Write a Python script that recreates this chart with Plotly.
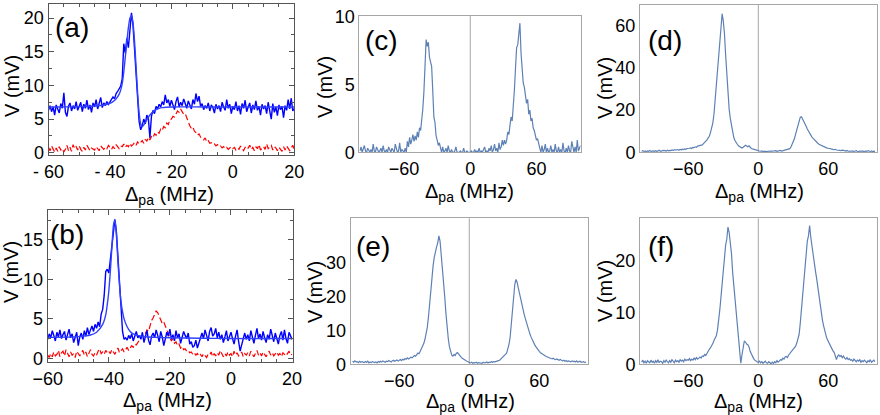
import plotly.graph_objects as go

# ---------------- DATA ----------------
# panel (a): x grid from -60 to 20 MHz, 0.5 MHz steps
a_x = [-60 + 0.5 * i for i in range(161)]
a_blue = [
    6.3, 7.0, 6.1, 6.8, 5.6, 7.1, 6.5, 5.9, 7.3, 6.6,
    8.9, 6.0, 5.4, 6.9, 7.4, 6.2, 7.0, 6.5, 7.6, 6.3,
    6.9, 7.5, 6.1, 7.2, 6.6, 7.8, 6.4, 7.1, 6.0, 7.4,
    6.8, 7.9, 6.5, 7.3, 8.2, 6.7, 7.4, 7.0, 7.6, 7.2,
    7.6, 7.9, 8.3, 8.0, 8.8, 9.1, 9.6, 9.9, 11.0, 16.2,
    14.8, 17.0, 15.6, 18.5, 20.8, 19.0, 15.2, 11.5, 7.5, 4.6,
    3.4, 4.0, 5.0, 4.3, 5.6, 5.1, 2.2, 5.4, 6.3, 5.8,
    6.9, 6.5, 7.2, 6.8, 7.6, 7.1, 8.6, 7.4, 7.9, 6.9,
    7.8, 7.2, 6.4, 7.6, 8.3, 6.8, 7.5, 7.0, 8.0, 7.3,
    6.6, 7.7, 7.1, 6.5, 7.9, 7.2, 8.8, 7.6, 8.4, 6.9,
    7.3, 6.4, 7.0, 6.6, 7.4, 6.2, 7.1, 6.7, 5.9, 7.2,
    6.5, 7.0, 6.1, 7.5, 6.8, 6.3, 7.9, 6.6, 7.2, 5.8,
    6.9, 6.4, 7.6, 6.2, 7.0, 5.7, 7.3, 6.6, 7.8, 6.1,
    6.8, 7.4, 5.9, 7.1, 6.4, 7.7, 6.3, 6.9, 5.6, 7.2,
    6.5, 7.0, 5.8, 7.5, 6.2, 5.0, 7.3, 6.0, 6.8, 5.5,
    7.1, 6.4, 6.9, 5.2, 7.0, 6.3, 7.9, 6.5, 8.1, 6.2,
    6.6,
]
a_red = [
    0.8, 0.3, 1.0, 0.5, 0.1, 0.7, 0.2, 0.9, 0.4, 0.6,
    0.1, 0.5, 1.1, 0.3, 0.8, 0.2, 1.2, 0.6, 0.9, 0.4,
    1.0, 0.5, 0.2, 0.8, 0.4, 1.1, 0.6, 0.3, 0.7, 0.5,
    0.4, 0.9, 0.6, 0.3, 1.0, 0.7, 0.5, 0.8, 0.6, 1.1,
    0.7, 0.5, 0.9, 0.6, 1.2, 0.8, 0.6, 1.0, 0.9, 1.3,
    0.8, 1.1, 0.9, 1.4, 1.0, 1.2, 1.5, 1.1, 1.6, 1.3,
    1.5, 1.8, 1.4, 2.0, 1.7, 2.3, 1.9, 2.4, 2.2, 2.8,
    2.6, 3.1, 2.9, 3.5, 3.3, 3.9, 3.7, 4.4, 4.2, 4.9,
    5.0, 5.4, 5.3, 5.9, 6.2, 6.0, 6.5, 6.1, 5.7, 5.8,
    5.2, 4.4, 4.0, 3.6, 3.8, 3.2, 3.0, 2.6, 2.8, 2.3,
    2.1, 1.9, 2.2, 1.6, 1.8, 1.4, 1.5, 1.2, 1.3, 1.0,
    1.2, 0.9, 1.0, 0.7, 0.9, 0.6, 0.8, 0.5, 0.7, 0.9,
    0.6, 0.8, 0.4, 0.7, 0.5, 1.0, 0.6, 0.3, 0.8, 0.5,
    0.7, 1.1, 0.5, 0.8, 0.3, 0.9, 0.6, 1.2, 0.4, 0.7,
    0.9, 0.5, 1.3, 0.6, 0.8, 1.1, 0.4, 0.9, 0.7, 0.3,
    0.8, 0.5, 0.2, 0.9, 0.4, 1.0, 0.6, 0.3, 0.7, 1.1,
    0.5,
]
a_fit_x = [-60, -50, -45, -42, -40, -39, -38, -37, -36.5, -36, -35.5, -35, -34.5,
           -34, -33.5, -33, -32.5, -32, -31.5, -31, -30.5, -30, -29.5, -29, -28,
           -27, -26, -25, -24, -23, -20, -10, 0, 20]
a_fit_y = [6.8, 6.85, 6.95, 7.1, 7.35, 7.6, 8.0, 8.7, 9.3, 10.3, 12.0, 14.2, 16.5,
           18.6, 20.0, 20.4, 19.3, 16.6, 12.8, 8.9, 5.9, 4.3, 3.9, 4.1, 4.9,
           5.6, 6.1, 6.4, 6.6, 6.7, 6.8, 6.8, 6.8, 6.8]

# panel (b)
b_x = [-60 + 0.5 * i for i in range(161)]
b_blue = [
    2.4, 3.1, 2.6, 3.5, 2.9, 2.2, 3.3, 2.7, 3.6, 2.5,
    3.0, 3.4, 2.3, 2.9, 3.7, 2.6, 3.1, 2.0, 2.8, 3.3,
    1.6, 2.7, 3.2, 2.4, 3.5, 2.8, 3.9, 3.0, 3.6, 4.1,
    3.4, 4.3, 3.8, 4.6, 4.0, 5.6, 6.2, 8.0, 11.0, 11.3,
    10.8, 12.5, 14.5, 16.5, 17.6, 16.0, 12.8, 8.6, 5.5, 3.4,
    2.4, 2.6, 2.3, 2.9, 2.5, 3.1, 2.2, 2.8, 3.4, 2.6,
    2.9, 2.4, 3.3, 2.0, 2.7, 3.5, 2.3, 1.7, 2.8, 3.2,
    2.6, 3.6, 2.9, 2.1, 3.4, 2.7, 1.6, 2.5, 3.3, 2.8,
    3.7, 2.4, 3.0, 2.2, 3.5, 2.6, 3.1, 1.9, 2.7, 3.4,
    2.9, 2.5, 3.2, 1.8, 2.1, 1.4, 1.6, 2.3, 1.3, 2.0,
    2.7, 3.2, 2.5, 3.6, 2.9, 2.2, 3.4, 3.9, 2.8, 3.1,
    3.8, 2.6, 3.3, 2.4, 3.0, 2.0, 2.7, 3.5, 2.2, 2.9,
    3.3, 2.5, 1.8, 2.8, 3.6, 2.1, 0.9, 1.7, 2.6, 3.2,
    2.4, 3.0, 2.2, 3.5, 2.7, 1.9, 2.9, 3.8, 2.5, 3.1,
    2.3, 3.4, 2.6, 2.0, 3.0, 2.4, 3.7, 2.8, 2.1, 3.2,
    2.6, 1.8, 2.9, 3.4, 2.3, 3.6, 2.5, 1.9, 3.3, 2.7,
    2.4,
]
b_red = [
    0.4, 0.1, 0.6, 0.2, 0.8, 0.3, 0.5, 1.0, 0.2, 0.7,
    0.9, 0.3, 1.1, 0.5, 0.2, 0.8, 0.4, 0.6, 0.1, 0.9,
    0.5, 0.3, 0.7, 1.0, 0.4, 0.8, 0.2, 0.6, 1.1, 0.5,
    0.3, 0.7, 0.4, 0.9, 1.2, 0.6, 0.8, 0.5, 1.0, 0.7,
    0.9, 0.6, 1.1, 0.8, 0.5, 1.0, 1.3, 0.7, 0.9, 1.2,
    0.8, 1.1, 1.4, 1.0, 1.3, 1.6, 1.4, 1.8, 1.7, 2.0,
    2.2, 2.6, 2.9, 2.7, 3.2, 3.6, 3.4, 4.2, 4.8, 5.1,
    5.6, 6.0, 5.8, 5.3, 4.9, 4.4, 4.6, 4.0, 3.6, 3.1,
    2.6, 2.2, 2.5, 1.9, 2.1, 1.6, 1.8, 1.3, 1.5, 1.1,
    1.2, 0.9, 1.0, 0.7, 0.8, 0.5, 0.7, 0.4, 0.6, 0.3,
    0.5, 0.2, 0.6, 0.3, 0.1, 0.5, 0.4, 0.8, 0.2, 0.6,
    0.3, 0.7, 0.4, 1.0, 0.5, 0.2, 0.6, 0.3, 0.8, 0.4,
    0.6, 0.2, 0.9, 0.4, 0.7, 0.3, 0.5, 0.8, 0.2, 0.6,
    0.4, 0.7, 0.3, 0.9, 0.5, 0.2, 0.6, 1.0, 0.4, 0.7,
    0.3, 0.8, 0.5, 0.2, 0.6, 0.9, 0.4, 0.7, 0.3, 0.5,
    0.8, 0.4, 0.6, 0.2, 0.7, 0.5, 0.3, 0.6, 0.9, 0.4,
    0.5,
]
b_fit_x = [-60, -50, -46, -44, -42, -41, -40.5, -40, -39.5, -39, -38.5, -38, -37.5,
           -37, -36.5, -36, -35.5, -35, -34, -33, -32, -30, -27, -24, -20, -10, 0, 10, 20]
b_fit_y = [2.65, 2.75, 2.95, 3.3, 4.3, 5.5, 6.8, 8.5, 11.0, 14.0, 16.8, 17.6, 15.6,
           12.2, 9.3, 7.2, 5.9, 5.0, 4.0, 3.4, 3.1, 2.85, 2.7, 2.65, 2.6, 2.55, 2.5, 2.5, 2.5]

# panels (c)-(f): x grid from -100 to 100 MHz, 1 MHz steps
cf_x = list(range(-100, 101))
c_y = [
    0.1, 0.4, 0.0, 0.2, 0.5, 0.1, 0.0, 0.3, 0.1, 0.0,
    0.2, 0.0, 0.6, 0.1, 0.0, 0.4, 0.2, 0.0, 0.1, 0.3,
    0.0, 0.5, 0.1, 0.0, 0.2, 0.0, 0.4, 0.1, 0.0, 0.3,
    0.1, 0.0, 0.6, 0.2, 0.0, 0.1, 0.7, 0.0, 0.2, 0.1,
    0.0, 0.3, 0.0, 0.8, 0.4, 1.1, 0.6, 0.9, 1.3, 0.8,
    1.2, 0.9, 1.5, 1.1, 1.8, 1.6, 2.2, 3.2, 4.5, 6.6,
    8.3, 7.8, 8.1, 7.0, 6.6, 6.3, 4.5, 2.6, 2.2, 1.2,
    0.9, 0.5, 0.7, 0.2, 0.0, 0.4, 0.0, 0.1, 0.3, 0.0,
    0.5, 0.1, 0.0, 0.2, 0.0, 0.0, 0.1, 0.4, 0.0, 0.0,
    0.0, 0.1, 0.0, 0.0, 0.3, 0.0, 0.0, 0.1, 0.0, 0.0,
    0.0, 0.1, 0.0, 0.0, 0.2, 0.0, 0.1, 0.0, 0.3, 0.0,
    0.1, 0.0, 0.2, 0.4, 0.0, 0.1, 0.0, 0.3, 0.1, 0.5,
    0.0, 0.2, 0.6, 0.1, 0.3, 0.0, 0.7, 0.2, 0.4, 0.9,
    0.5, 0.9, 0.6, 0.9, 1.5, 1.3, 2.0, 2.6, 2.3, 3.3,
    4.6, 6.2, 7.7, 7.9, 8.6, 9.5, 7.3, 6.0, 5.1, 4.8,
    4.1, 3.6, 3.9, 2.8, 3.1, 2.3, 2.5, 1.8, 1.6, 1.3,
    0.9, 1.0, 0.5, 0.3, 0.0, 0.5, 0.0, 0.2, 0.6, 0.0,
    0.3, 0.0, 0.1, 0.5, 0.0, 0.2, 0.0, 0.6, 0.1, 0.0,
    0.4, 0.0, 0.2, 0.0, 0.7, 0.1, 0.0, 0.3, 0.0, 0.5,
    0.1, 0.0, 0.8, 0.2, 0.0, 0.4, 0.0, 0.9, 0.1, 0.3,
    0.5,
]
d_y = [
    0.5, 0.8, 0.4, 0.6, 0.3, 0.7, 0.5, 0.9, 0.4, 0.6,
    0.7, 0.5, 0.8, 0.4, 0.6, 1.0, 0.5, 0.7, 0.6, 0.9,
    0.8, 0.6, 1.0, 0.7, 0.9, 0.8, 1.1, 0.9, 1.2, 1.0,
    1.1, 1.3, 1.0, 1.4, 1.2, 1.5, 1.3, 1.6, 1.4, 1.8,
    1.7, 1.9, 2.1, 1.8, 2.3, 2.2, 2.6, 2.4, 2.9, 3.1,
    3.2, 3.6, 3.5, 4.1, 4.6, 5.5, 5.9, 6.8, 7.6, 9.3,
    11.5, 13.8, 18.0, 24.5, 33.0, 40.5, 46.5, 52.0, 58.0, 65.5,
    62.0, 56.0, 46.0, 37.0, 27.0, 20.5, 16.0, 12.3, 9.0, 7.0,
    5.6, 4.5, 3.8, 3.1, 2.6, 2.3, 2.0, 2.4, 2.9, 3.3,
    3.0, 2.6, 3.1, 2.2, 1.8, 1.6, 1.4, 1.1, 1.0, 0.9,
    0.8, 0.6, 0.5, 0.7, 0.4, 0.6, 0.5, 0.3, 0.5, 0.6,
    0.4, 0.7, 0.5, 0.6, 0.4, 0.8, 0.5, 0.7, 0.6, 0.9,
    0.6, 0.8, 0.9, 1.0, 1.1, 1.3, 1.5, 1.7, 2.5, 3.6,
    4.8, 6.5, 8.6, 10.6, 12.8, 15.0, 16.6, 16.8, 15.8, 14.5,
    13.4, 12.3, 11.0, 9.9, 8.8, 8.1, 7.2, 6.6, 5.9, 5.3,
    4.7, 4.3, 3.8, 3.5, 3.1, 2.9, 2.6, 2.5, 2.2, 2.0,
    1.9, 1.7, 1.8, 1.5, 1.4, 1.3, 1.4, 1.1, 1.0, 1.2,
    0.9, 0.8, 1.0, 0.7, 0.8, 0.6, 0.9, 0.5, 0.7, 0.6,
    0.5, 0.7, 0.4, 0.6, 0.8, 0.5, 0.3, 0.6, 0.4, 0.7,
    0.5, 0.3, 0.6, 0.4, 0.8, 0.5, 0.4, 0.6, 0.3, 0.5,
    0.4,
]
e_y = [
    0.9, 0.6, 1.0, 0.7, 0.8, 0.5, 0.9, 0.6, 0.8, 0.7,
    0.5, 0.8, 0.6, 0.9, 0.4, 0.7, 0.5, 0.8, 0.6, 0.5,
    0.7, 0.4, 0.8, 0.6, 0.9, 0.7, 1.0, 0.8, 0.6, 0.9,
    0.8, 1.1, 0.9, 0.7, 1.0, 1.2, 0.9, 1.1, 1.3, 1.0,
    1.2, 1.4, 1.1, 1.5, 1.3, 1.7, 1.5, 1.9, 1.6, 2.0,
    2.1, 1.9, 2.3, 2.6, 2.4, 2.9, 3.3, 3.1, 3.8, 4.4,
    5.2, 6.1, 7.3, 8.7, 10.8, 13.8, 18.0, 21.8, 25.2, 29.0,
    31.5, 33.4, 34.6, 35.8, 37.8, 36.2, 32.5, 28.5, 24.0, 19.8,
    15.0, 10.5, 7.6, 5.2, 3.8, 2.7, 2.4, 2.9, 2.6, 3.3,
    3.4, 2.9, 2.5, 2.1, 1.8, 1.5, 1.3, 1.1, 0.9, 0.7,
    0.5, 0.4, 0.6, 0.3, 0.5, 0.4, 0.6, 0.3, 0.5, 0.4,
    0.5, 0.3, 0.6, 0.4, 0.5, 0.7, 0.4, 0.6, 0.5, 0.8,
    0.6, 0.8, 0.7, 0.9, 1.0, 1.1, 1.2, 1.5, 1.8, 2.2,
    2.5, 2.9, 3.3, 4.4, 5.8, 7.9, 11.5, 16.0, 20.5, 23.5,
    25.0, 24.2, 22.5, 20.8, 19.4, 17.8, 16.2, 14.8, 13.5, 12.2,
    11.0, 9.9, 8.9, 8.0, 7.1, 6.5, 5.8, 5.2, 4.6, 4.1,
    3.8, 3.4, 3.1, 2.9, 2.6, 2.5, 2.3, 2.1, 2.0, 1.9,
    1.7, 1.6, 1.8, 1.5, 1.4, 1.6, 1.3, 1.2, 1.4, 1.1,
    1.0, 1.2, 0.9, 1.1, 0.8, 1.0, 0.9, 0.7, 1.0, 0.8,
    0.9, 0.7, 1.0, 0.6, 0.8, 0.9, 0.6, 0.7, 0.8, 0.5,
    0.7,
]
f_y = [
    0.4, 0.8, 0.3, 0.6, 0.2, 0.7, 0.5, 0.3, 0.8, 0.4,
    0.6, 0.2, 0.7, 0.4, 0.9, 0.3, 0.6, 0.5, 0.2, 0.7,
    0.4, 0.8, 0.5, 0.3, 0.7, 0.4, 0.9, 0.6, 0.3, 0.8,
    0.5, 0.7, 0.4, 0.9, 0.6, 0.8, 0.5, 1.0, 0.7, 0.9,
    0.8, 1.1, 0.7, 1.0, 0.8, 1.2, 0.9, 1.3, 1.0, 1.2,
    1.4, 1.2, 1.6, 1.5, 1.9, 1.7, 2.2, 2.5, 2.9, 3.2,
    3.5, 4.0, 4.6, 5.2, 5.5, 6.6, 8.2, 10.5, 13.0, 15.8,
    18.5, 21.0, 23.0, 24.2, 26.5, 25.5, 23.5, 21.4, 17.8, 15.2,
    12.8, 9.6, 7.2, 5.0, 2.6, 0.2, 1.8, 3.3, 4.5, 4.3,
    3.9, 3.8, 3.4, 2.5, 1.9, 1.4, 1.1, 0.8, 0.6, 0.5,
    0.4, 0.6, 0.3, 0.5, 0.2, 0.4, 0.6, 0.3, 0.2, 0.5,
    0.3, 0.1, 0.4, 0.2, 0.5, 0.3, 0.7, 0.4, 0.6, 0.9,
    0.8, 1.2, 1.0, 1.4, 1.5, 1.3, 1.8, 2.1, 2.4, 2.7,
    2.9, 3.2, 3.5, 4.1, 4.8, 5.8, 8.0, 10.5, 13.5, 16.5,
    19.2, 22.0, 23.8, 24.8, 26.8, 24.5, 22.6, 21.0, 19.8, 18.0,
    16.6, 14.8, 13.0, 11.2, 9.9, 8.5, 7.4, 6.3, 5.6, 4.9,
    4.4, 3.9, 3.3, 3.0, 2.6, 2.3, 1.4, 0.9, 1.6, 1.8,
    1.5, 1.7, 1.3, 1.6, 1.2, 1.0, 1.3, 0.9, 1.1, 0.8,
    0.9, 0.6, 1.0, 0.7, 0.5, 0.8, 0.6, 0.9, 0.4, 0.7,
    0.5, 0.8, 0.6, 0.3, 0.7, 0.5, 0.9, 0.4, 0.6, 0.8,
    0.5,
]

assert len(a_blue) == len(a_x) and len(a_red) == len(a_x)
assert len(b_blue) == len(b_x) and len(b_red) == len(b_x)
assert len(a_fit_x) == len(a_fit_y) and len(b_fit_x) == len(b_fit_y)
for arr in (c_y, d_y, e_y, f_y):
    assert len(arr) == len(cf_x)

# tick labels
a_xticks = [-60, -40, -20, 0, 20]
a_xticktext = ["- 60", "- 40", "- 20", "0", "20"]
a_yticks = [0, 5, 10, 15, 20]
b_xticks = [-60, -40, -20, 0, 20]
b_xticktext = ["\u221260", "\u221240", "\u221220", "0", "20"]
b_yticks = [0, 5, 10, 15]
cf_xticks = [-60, 0, 60]
cf_xticktext = ["\u221260", "0", "60"]
c_yticks = [0, 5, 10]
d_yticks = [0, 20, 40, 60]
e_yticks = [0, 10, 20, 30]
f_yticks = [0, 10, 20]

panel_labels = ["(a)", "(b)", "(c)", "(d)", "(e)", "(f)"]
x_title = "\u0394<sub>pa</sub> (MHz)"
y_title = "V (mV)"

# ---------------- LAYOUT ----------------
W, H = 880, 415
FONT = "Liberation Sans, Arial, sans-serif"
TICK_FS = 18
TITLE_FS = 20
FRAME_DARK = "#555555"
FRAME_LIGHT = "#a6a6a6"
MBLUE = "#5e81b5"


def dx(l, r):
    return [l / W, r / W]


def dy(t, b):
    return [1 - b / H, 1 - t / H]


fig = go.Figure()

# (a)
fig.add_trace(go.Scatter(x=a_x, y=a_red, mode="lines", xaxis="x", yaxis="y",
                         line=dict(color="#ff0000", width=1.2, dash="6px,3px")))
fig.add_trace(go.Scatter(x=a_x, y=a_blue, mode="lines", xaxis="x", yaxis="y",
                         line=dict(color="#0000ff", width=1.4)))
fig.add_trace(go.Scatter(x=a_fit_x, y=a_fit_y, mode="lines", xaxis="x", yaxis="y",
                         line=dict(color="#3040ff", width=1.4, shape="spline", smoothing=0.6)))
# (b)
fig.add_trace(go.Scatter(x=b_x, y=b_red, mode="lines", xaxis="x2", yaxis="y2",
                         line=dict(color="#ff0000", width=1.2, dash="6px,3px")))
fig.add_trace(go.Scatter(x=b_x, y=b_blue, mode="lines", xaxis="x2", yaxis="y2",
                         line=dict(color="#0000ff", width=1.4)))
fig.add_trace(go.Scatter(x=b_fit_x, y=b_fit_y, mode="lines", xaxis="x2", yaxis="y2",
                         line=dict(color="#3040ff", width=1.4, shape="spline", smoothing=0.6)))
# (c)-(f)
for i, ys in enumerate([c_y, d_y, e_y, f_y]):
    n = i + 3
    fig.add_trace(go.Scatter(x=cf_x, y=ys, mode="lines", xaxis=f"x{n}", yaxis=f"y{n}",
                             line=dict(color=MBLUE, width=1.2)))


def left_axes(xdom, ydom, xr, yr, xtv, xtt, ytv, anchor_x, anchor_y):
    common = dict(showline=True, linecolor=FRAME_DARK, linewidth=1, mirror="ticks",
                  ticks="inside", ticklen=5, tickcolor=FRAME_DARK, showgrid=False,
                  zeroline=False, automargin=False,
                  tickfont=dict(size=TICK_FS, color="black", family=FONT))
    xa = dict(common, domain=xdom, range=xr, anchor=anchor_y, tickvals=xtv, ticktext=xtt,
              minor=dict(ticks="inside", ticklen=3, dtick=5, tick0=0, tickcolor=FRAME_DARK))
    ya = dict(common, domain=ydom, range=yr, anchor=anchor_x, tickvals=ytv,
              minor=dict(ticks="inside", ticklen=3, dtick=2.5, tick0=0, tickcolor=FRAME_DARK))
    return xa, ya


def right_axes(xdom, ydom, xr, yr, ytv, anchor_x, anchor_y):
    common = dict(showline=True, linecolor=FRAME_LIGHT, linewidth=1, mirror=True,
                  ticks="", showgrid=False, zeroline=False, automargin=False,
                  tickfont=dict(size=TICK_FS, color="black", family=FONT))
    xa = dict(common, domain=xdom, range=xr, anchor=anchor_y, tickvals=cf_xticks,
              ticktext=cf_xticktext)
    ya = dict(common, domain=ydom, range=yr, anchor=anchor_x, tickvals=ytv)
    return xa, ya


xa1, ya1 = left_axes(dx(48.5, 294.3), dy(4, 155), [-60, 20], [-0.34, 22.1],
                     a_xticks, a_xticktext, a_yticks, "x", "y")
xa2, ya2 = left_axes(dx(47.7, 292.7), dy(210, 362), [-60, 20.2], [-0.47, 18.8],
                     b_xticks, b_xticktext, b_yticks, "x2", "y2")
xa3, ya3 = right_axes(dx(359.4, 580.6), dy(15.7, 152.3), [-100.5, 100], [0, 10.05], c_yticks, "x3", "y3")
xa4, ya4 = right_axes(dx(640, 877.3), dy(5, 152.3), [-101.4, 102], [0, 69.6], d_yticks, "x4", "y4")
xa5, ya5 = right_axes(dx(350.7, 588.3), dy(218.3, 364.3), [-101.6, 102], [0, 43], e_yticks, "x5", "y5")
xa6, ya6 = right_axes(dx(640, 877.3), dy(218.3, 364.3), [-101.4, 102], [0, 28.2], f_yticks, "x6", "y6")

fig.update_layout(
    width=W, height=H, margin=dict(l=0, r=0, t=0, b=0, pad=0, autoexpand=False),
    paper_bgcolor="white", plot_bgcolor="white", showlegend=False,
    font=dict(family=FONT, color="black"),
    xaxis=xa1, yaxis=ya1, xaxis2=xa2, yaxis2=ya2, xaxis3=xa3, yaxis3=ya3,
    xaxis4=xa4, yaxis4=ya4, xaxis5=xa5, yaxis5=ya5, xaxis6=xa6, yaxis6=ya6,
)

# vertical zero lines in (c)-(f)
for n in (3, 4, 5, 6):
    fig.add_shape(type="line", xref=f"x{n}", yref=f"y{n} domain", x0=0, x1=0, y0=0, y1=1,
                  line=dict(color=FRAME_LIGHT, width=1), layer="below")


def paper_text(txt, px, py, size, angle=0):
    fig.add_annotation(text=txt, x=px / W, y=1 - py / H, xref="paper", yref="paper",
                       xanchor="center", yanchor="middle", showarrow=False, textangle=angle,
                       font=dict(size=size, family=FONT, color="black"))


# panel labels
label_pos = [(72, 27), (67, 234), (381, 41), (665, 41), (373, 246), (661, 246)]
for txt, (px, py) in zip(panel_labels, label_pos):
    paper_text(txt, px, py, 28)

# axis titles (a, b, c, d, e, f)
xtitle_pos = [(169, 195), (167, 401), (469, 193), (759, 193), (470, 402), (758, 402)]
ytitle_pos = [(12, 86), (11, 272), (325, 87), (605, 88), (315, 292), (605, 291)]
for (px, py) in xtitle_pos:
    paper_text(x_title, px, py, TITLE_FS)
for (px, py) in ytitle_pos:
    paper_text(y_title, px, py, TITLE_FS, angle=-90)

fig.write_html("out.html")
